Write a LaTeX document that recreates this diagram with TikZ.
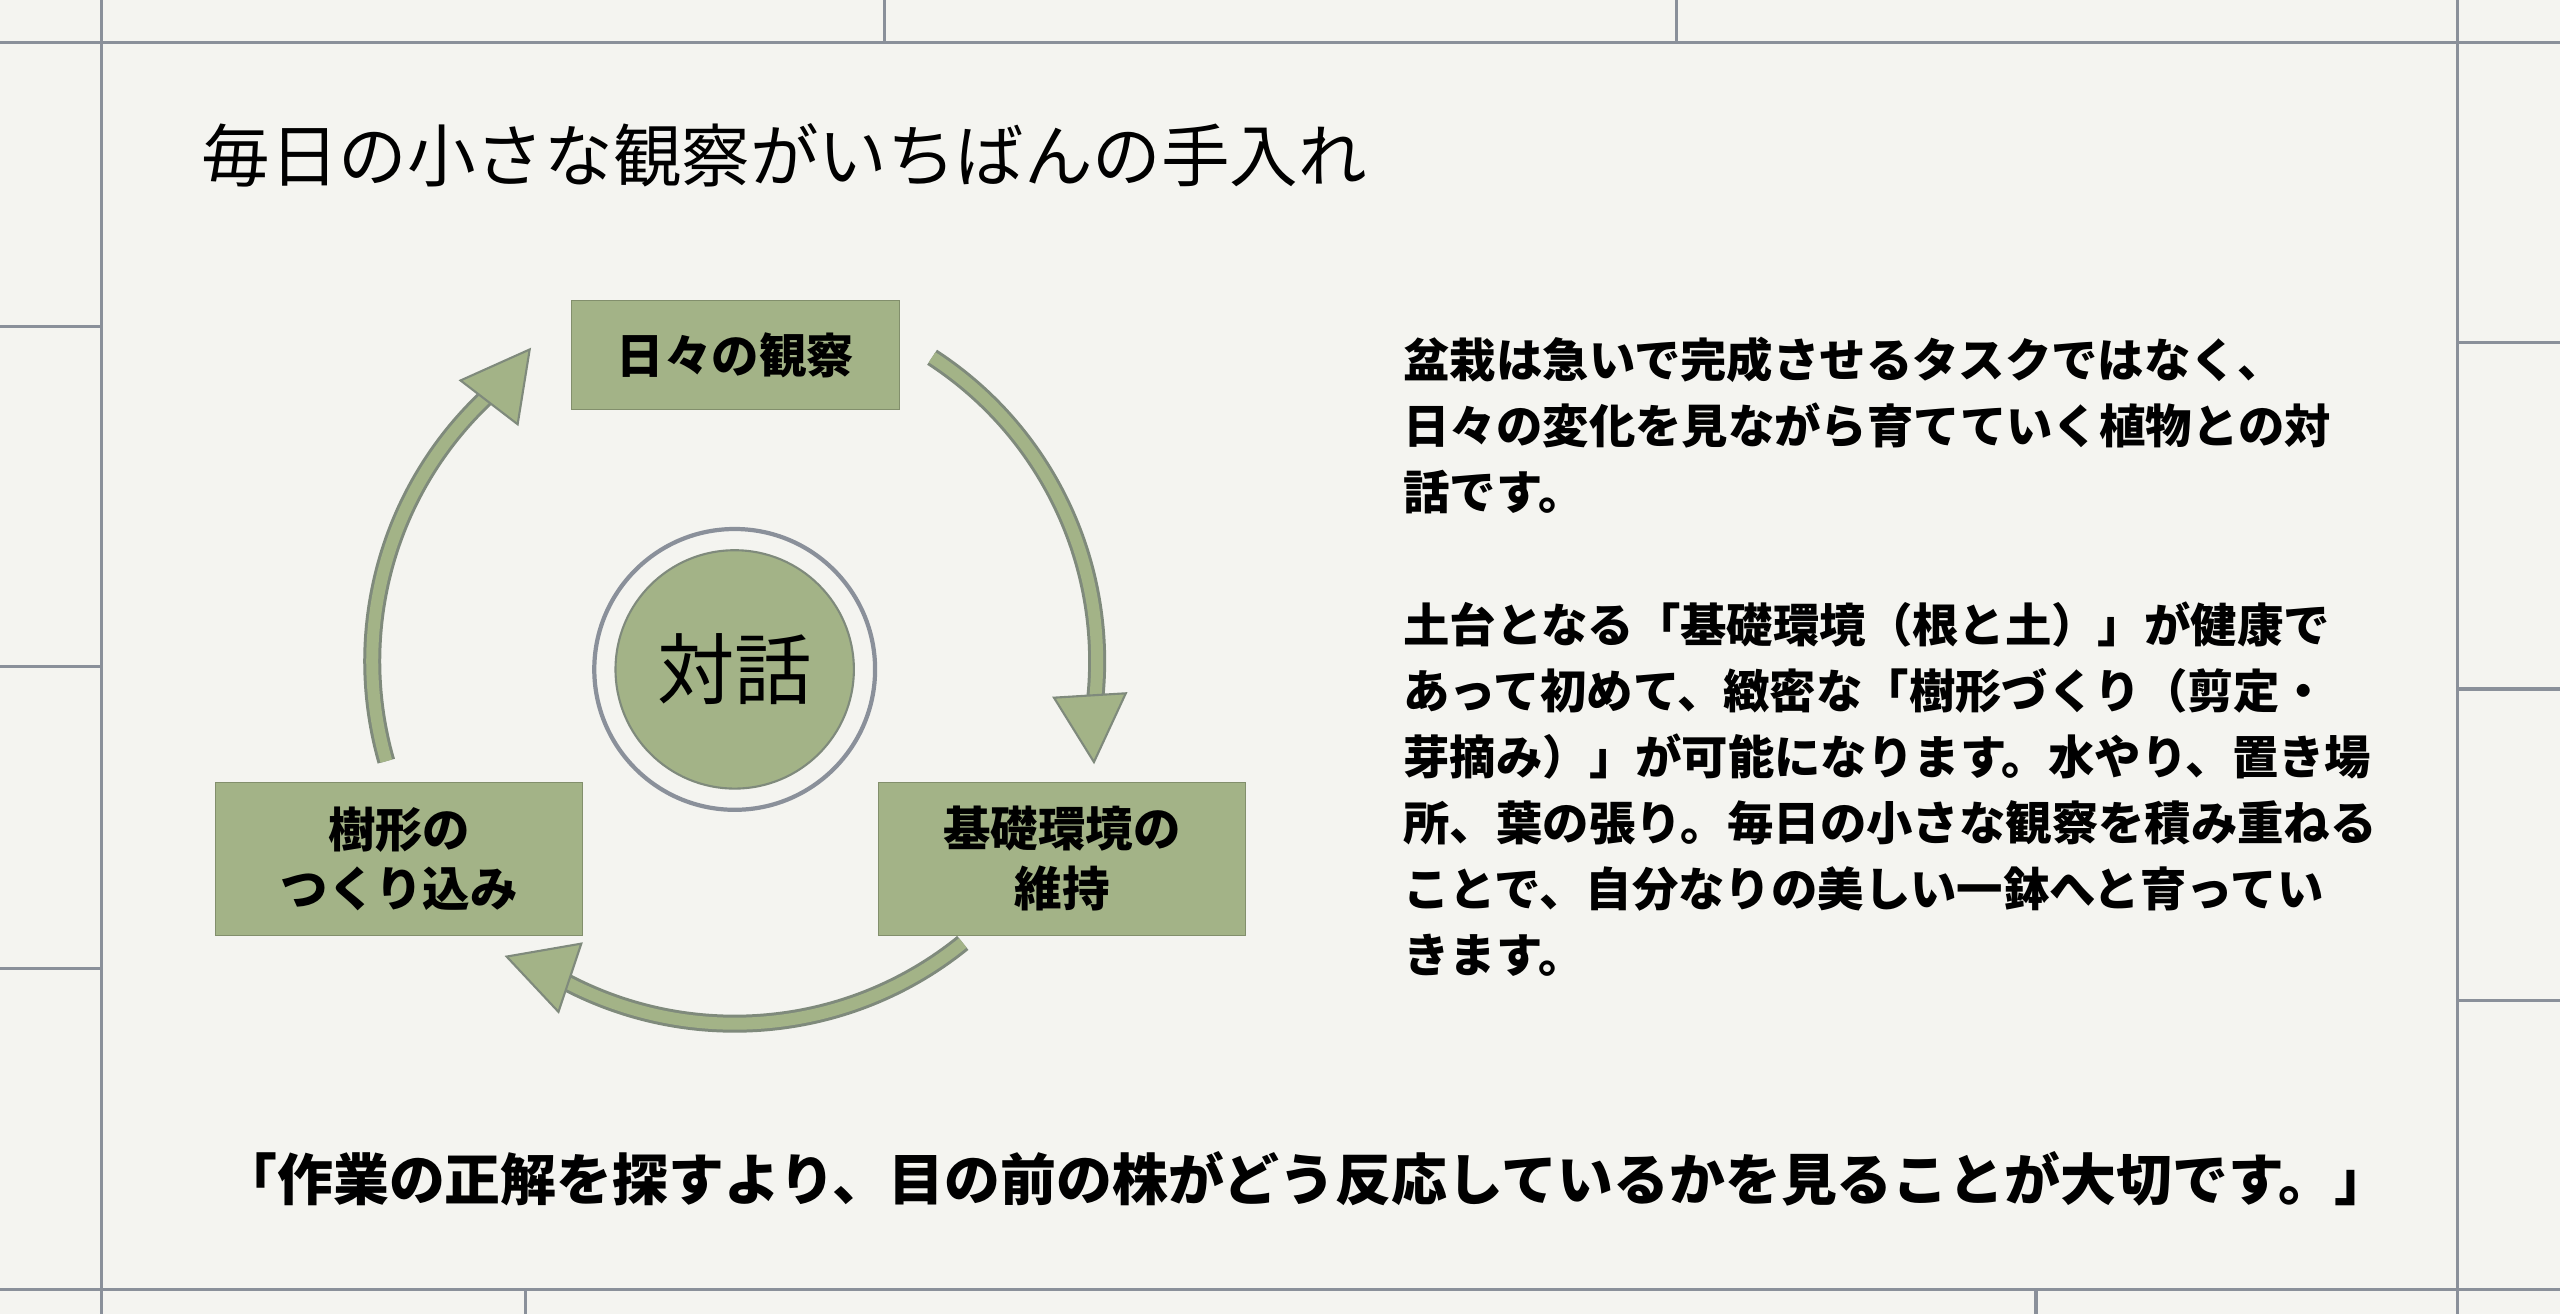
\documentclass[tikz,border=0pt]{standalone}
\usepackage{fontspec}
\setmainfont{Noto Sans CJK JP}
\usetikzlibrary{arrows.meta}
\definecolor{bg}{HTML}{F4F4F0}
\definecolor{gridc}{HTML}{8A909A}
\definecolor{sage}{HTML}{A3B387}
\definecolor{edge}{HTML}{7F8A7C}
\tikzset{
  boxs/.style={fill=sage, draw=sage!80!black, line width=0.3pt, font=\bfseries\fontsize{13.5pt}{17pt}\selectfont, align=center, inner sep=0pt},
  gline/.style={draw=gridc, line width=0.9pt},
  arcouter/.style={draw=edge, line width=0.18cm},
  arcinner/.style={draw=sage, line width=0.12cm},
  tip/.style={-{Triangle[width=0.75cm,length=0.7cm,fill=sage]}, draw=edge, line width=0.6pt}
}
\begin{document}
\begin{tikzpicture}[x=0.01633cm,y=-0.01633cm]
\fill[bg] (0,0) rectangle (1568,805);
\useasboundingbox (0,0) rectangle (1568,805);
% grid
\draw[gline] (0,26) -- (1568,26);
\draw[gline] (0,790) -- (1568,790);
\draw[gline] (62,0) -- (62,805);
\draw[gline] (1505,0) -- (1505,805);
\draw[gline] (542,0) -- (542,26);
\draw[gline] (1027,0) -- (1027,26);
\draw[gline] (322,790) -- (322,805);
\draw[gline] (1247,790) -- (1247,805);
\foreach \yy in {200,408,593} \draw[gline] (0,\yy) -- (62,\yy);
\foreach \yy in {210,422,613} \draw[gline] (1505,\yy) -- (1568,\yy);
% title
\node[anchor=west, font=\fontsize{19.5pt}{22pt}\selectfont] (title) at (116,95) {毎日の小さな観察がいちばんの手入れ};
% center circle
\coordinate (c) at (450,405);
\node[circle, draw=gridc, line width=1.2pt, fill=bg, minimum size=172*0.01633cm] (ring) at (450,410) {};
\node[circle, draw=edge, line width=0.6pt, fill=sage, minimum size=146*0.01633cm, font=\fontsize{22pt}{24pt}\selectfont] (center) at (450,410) {対話};
% boxes
\node[boxs, minimum width=201*0.01633cm, minimum height=67*0.01633cm] (obs) at (450.5,217.5) {日々の観察};
\node[boxs, minimum width=225*0.01633cm, minimum height=94*0.01633cm] (shape) at (244.5,526) {樹形の\\つくり込み};
\node[boxs, minimum width=225*0.01633cm, minimum height=94*0.01633cm] (base) at (650.5,526) {基礎環境の\\維持};
% arrows
\foreach \a/\b in {-57/10, 51/122, 164/231}{
  \draw[arcouter] ([shift={(\a:222)}]c) arc[start angle=\a, end angle=\b, radius=222];
  \draw[arcinner] ([shift={(\a:222)}]c) arc[start angle=\a, end angle=\b, radius=222];
}
\path (c) ++(10:222) coordinate (t1a) (c) ++(16:229) coordinate (t1b);
\path (c) ++(122:222) coordinate (t2a) (c) ++(128:229) coordinate (t2b);
\path (c) ++(231:222) coordinate (t3a) (c) ++(237:229) coordinate (t3b);
\draw[tip] (t1a) -- (t1b);
\draw[tip] (t2a) -- (t2b);
\draw[tip] (t3a) -- (t3b);
% right text
\node[anchor=north west, align=left, font=\bfseries\fontsize{13.2pt}{18.8pt}\selectfont] (body) at (852,199) {盆栽は急いで完成させるタスクではなく、\\日々の変化を見ながら育てていく植物との対\\話です。\\[18.8pt]土台となる「基礎環境（根と土）」が健康で\\あって初めて、緻密な「樹形づくり（剪定・\\芽摘み）」が可能になります。水やり、置き場\\所、葉の張り。毎日の小さな観察を積み重ねる\\ことで、自分なりの美しい一鉢へと育ってい\\きます。};
% quote
\node[anchor=west, font=\bfseries\fontsize{15.9pt}{18pt}\selectfont] (quote) at (128,722) {「作業の正解を探すより、目の前の株がどう反応しているかを見ることが大切です。」};
\end{tikzpicture}
\end{document}
